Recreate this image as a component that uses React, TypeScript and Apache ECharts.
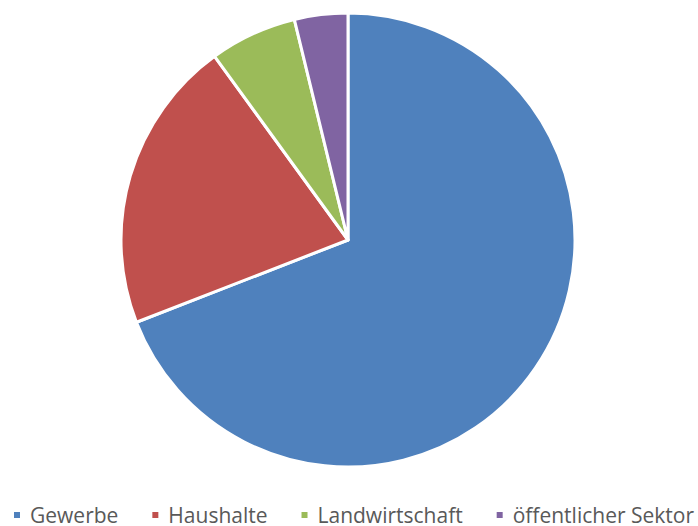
import React, { useEffect, useRef } from "react";
import * as echarts from "echarts";

const categories = ["Gewerbe", "Haushalte", "Landwirtschaft", "öffentlicher Sektor"];
const values = [69.1, 20.9, 6.2, 3.8];
const colors = ["#4F81BD", "#C0504D", "#9BBB59", "#8064A2"];

export default function App() {
  const ref = useRef<HTMLDivElement>(null);
  useEffect(() => {
    if (!ref.current) return;
    const chart = echarts.init(ref.current, undefined, { renderer: "svg" });
    chart.setOption({
      animation: false,
      color: colors,
      legend: {
        left: 12,
        top: 504,
        width: 686,
        icon: "rect",
        itemWidth: 8,
        itemHeight: 8,
        itemGap: 32,
        padding: 0,
        textStyle: { fontFamily: "Open Sans", fontSize: 21, lineHeight: 22, color: "#595959", padding: [0, 0, 0, 4] },
        data: categories,
      },
      series: [
        {
          type: "pie",
          center: [348, 240],
          radius: 227,
          startAngle: 90,
          clockwise: true,
          label: { show: false },
          labelLine: { show: false },
          emphasis: { disabled: true },
          itemStyle: { borderColor: "#ffffff", borderWidth: 3 },
          data: categories.map((name, i) => ({ name, value: values[i] })),
        },
      ],
    });
    return () => chart.dispose();
  }, []);
  return <div ref={ref} style={{ width: 698, height: 526, position: "absolute", left: 0, top: 0 }} />;
}
